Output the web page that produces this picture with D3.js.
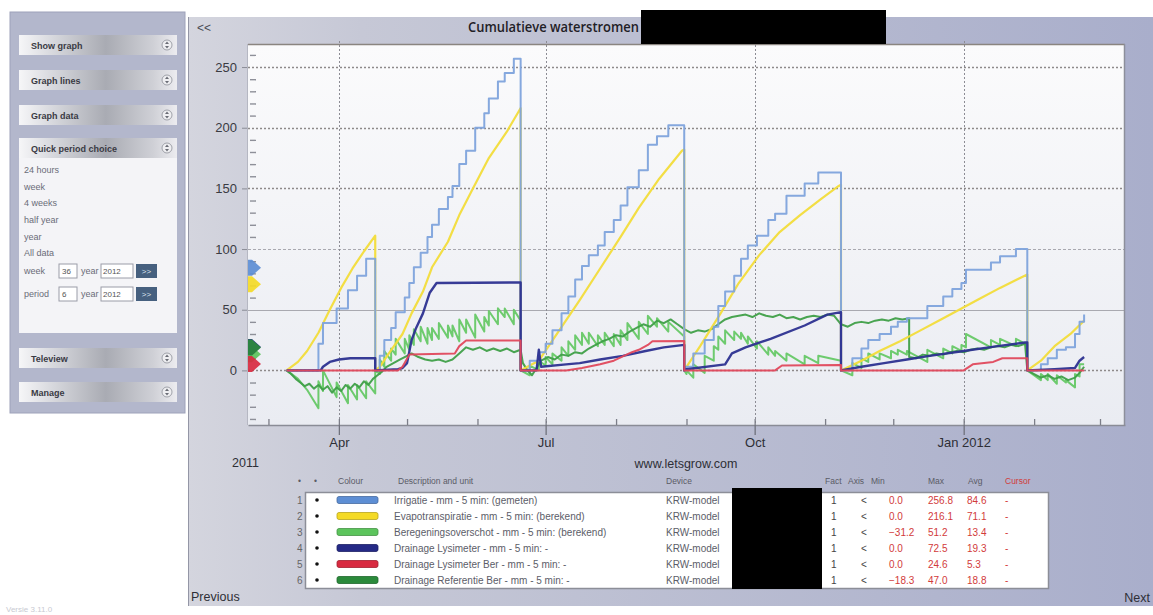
<!DOCTYPE html>
<html>
<head>
<meta charset="utf-8">
<script src="https://cdn.jsdelivr.net/npm/d3@7"></script>
<style>
  html, body { margin: 0; padding: 0; background: #ffffff; }
  svg { display: block; font-family: "Liberation Sans", Arial, sans-serif; }
</style>
</head>
<body>
<svg id="chart" width="1153" height="615"></svg>
<script>
// ---------- data ----------
const chartTitle = "Cumulatieve waterstromen";

const yTickValues = [0, 50, 100, 150, 200, 250];
const quarterTicks = ["2011-04-01", "2011-07-01", "2011-10-01", "2012-01-01"];
const quarterLabels = ["Apr", "Jul", "Oct", "Jan 2012"];
const monthTicks = ["2011-03-01", "2011-04-01", "2011-05-01", "2011-06-01", "2011-07-01", "2011-08-01",
  "2011-09-01", "2011-10-01", "2011-11-01", "2011-12-01", "2012-01-01", "2012-02-01", "2012-03-01"];

// Irrigatie (step series)
const irrigatie = [
  ["2011-03-09",0],["2011-03-23",22],["2011-03-25",39],["2011-03-31",51],["2011-04-05",66],["2011-04-09",78],["2011-04-13",92],["2011-04-17",0],
  ["2011-04-19",12],["2011-04-21",25],["2011-04-24",35],["2011-04-26",48],["2011-04-30",60],["2011-05-02",72],["2011-05-04",85],["2011-05-07",97],
  ["2011-05-10",110],["2011-05-12",120],["2011-05-15",133],["2011-05-19",143],["2011-05-21",152],["2011-05-24",170],["2011-05-27",181],["2011-05-31",200],
  ["2011-06-04",212],["2011-06-06",224],["2011-06-10",238],["2011-06-13",245],["2011-06-17",256.8],["2011-06-20",0],
  ["2011-06-24",8],["2011-06-28",15],["2011-07-01",22],["2011-07-04",33],["2011-07-08",47],["2011-07-11",61],["2011-07-14",75],["2011-07-17",86],
  ["2011-07-20",95],["2011-07-24",103],["2011-07-27",114],["2011-07-31",124],["2011-08-03",136],["2011-08-06",151],["2011-08-11",165],["2011-08-15",186],
  ["2011-08-19",193],["2011-08-24",202],["2011-08-31",0],
  ["2011-09-01",3],["2011-09-04",14],["2011-09-09",25],["2011-09-13",36],["2011-09-15",53],["2011-09-18",65],["2011-09-22",78],["2011-09-25",92],
  ["2011-09-28",103],["2011-10-02",111],["2011-10-07",124],["2011-10-10",129],["2011-10-15",144],["2011-10-23",154],["2011-10-29",163],["2011-11-08",0],
  ["2011-11-13",10],["2011-11-17",18],["2011-11-20",25],["2011-11-25",30],["2011-11-30",36],["2011-12-03",40],["2011-12-07",43],["2011-12-16",53],
  ["2011-12-23",61],["2011-12-27",67],["2011-12-31",72],["2012-01-02",83],["2012-01-13",89],["2012-01-17",94],["2012-01-24",100],["2012-01-29",0],
  ["2012-02-04",5],["2012-02-07",10],["2012-02-11",17],["2012-02-15",19],["2012-02-19",30],["2012-02-21",40],["2012-02-23",46]
];

// Evapotranspiratie
const evapotranspiratie = [
  ["2011-03-09",0],["2011-03-14",7],["2011-03-18",16],["2011-03-23",31],["2011-03-28",50],["2011-04-02",68],["2011-04-07",84],["2011-04-12",98],["2011-04-17",111],["2011-04-17",0],
  ["2011-04-19",3],["2011-04-23",14],["2011-04-29",30],["2011-05-03",47],["2011-05-08",65],["2011-05-12",85],["2011-05-19",106],["2011-05-24",128],
  ["2011-05-30",150],["2011-06-06",175],["2011-06-14",197],["2011-06-19",213],["2011-06-20",216.1],["2011-06-20",0],
  ["2011-06-24",4],["2011-06-28",8],["2011-07-07",33],["2011-07-16",58],["2011-07-25",84],["2011-08-03",110],["2011-08-11",134],["2011-08-20",158],
  ["2011-08-30",181],["2011-08-31",182],["2011-08-31",0],
  ["2011-09-07",20],["2011-09-16",47],["2011-09-24",72],["2011-10-03",95],["2011-10-12",114],["2011-10-21",128],["2011-10-30",141],["2011-11-07",152],
  ["2011-11-08",153],["2011-11-08",0],
  ["2011-11-17",8],["2011-11-25",16],["2011-12-04",24],["2011-12-13",33],["2011-12-22",42],["2011-12-30",50],["2012-01-08",59],["2012-01-17",68],
  ["2012-01-29",79],["2012-01-29",0],
  ["2012-02-04",8],["2012-02-10",20],["2012-02-17",30],["2012-02-23",41]
];

// Beregeningsoverschot
const beregeningsoverschot = [
  ["2011-03-09",0],["2011-03-14",-7],["2011-03-18",-16],["2011-03-23",-31.2],["2011-03-23",-9],["2011-03-25",-17],["2011-03-25",0],
  ["2011-03-31",-22],["2011-03-31",-10],["2011-04-05",-27],["2011-04-05",-12],["2011-04-09",-24],["2011-04-09",-12],["2011-04-13",-23],["2011-04-13",-9],
  ["2011-04-17",-19],["2011-04-17",0],
  ["2011-04-19",-3],["2011-04-19",9],["2011-04-21",3],["2011-04-21",16],["2011-04-24",8],["2011-04-24",18],["2011-04-26",13],["2011-04-26",26],
  ["2011-04-30",14],["2011-04-30",26],["2011-05-02",17],["2011-05-02",29],["2011-05-04",21],["2011-05-04",34],["2011-05-07",24],["2011-05-07",36],
  ["2011-05-10",22],["2011-05-10",35],["2011-05-12",25],["2011-05-12",35],["2011-05-15",26],["2011-05-15",39],["2011-05-19",27],["2011-05-19",37],
  ["2011-05-21",28],["2011-05-21",37],["2011-05-24",24],["2011-05-24",42],["2011-05-27",31],["2011-05-27",42],["2011-05-31",27],["2011-05-31",46],
  ["2011-06-04",32],["2011-06-04",44],["2011-06-06",37],["2011-06-06",49],["2011-06-10",38],["2011-06-10",51.2],["2011-06-13",44],["2011-06-13",51],
  ["2011-06-17",38],["2011-06-17",50],["2011-06-20",41],["2011-06-20",0],
  ["2011-06-24",-4],["2011-06-24",4],["2011-06-28",0],["2011-06-28",8],["2011-07-01",4],["2011-07-01",11],["2011-07-04",5],["2011-07-04",14],
  ["2011-07-08",8],["2011-07-08",19],["2011-07-11",12],["2011-07-11",24],["2011-07-14",17],["2011-07-14",29],["2011-07-17",21],["2011-07-17",31],
  ["2011-07-20",22],["2011-07-20",31],["2011-07-24",20],["2011-07-24",29],["2011-07-27",21],["2011-07-27",31],["2011-07-31",20],["2011-07-31",30],
  ["2011-08-03",21],["2011-08-03",33],["2011-08-06",25],["2011-08-06",39],["2011-08-11",26],["2011-08-11",40],["2011-08-15",30],["2011-08-15",45],
  ["2011-08-19",36],["2011-08-19",43],["2011-08-24",32],["2011-08-24",40],["2011-08-31",28],["2011-08-31",0],
  ["2011-09-01",-3],["2011-09-01",0],["2011-09-04",-6],["2011-09-04",5],["2011-09-09",-2],["2011-09-09",12],["2011-09-13",8],["2011-09-13",20],
  ["2011-09-15",17],["2011-09-15",28],["2011-09-18",22],["2011-09-18",33],["2011-09-22",25],["2011-09-22",32],["2011-09-25",26],["2011-09-25",31],
  ["2011-09-28",22],["2011-09-28",28],["2011-10-02",18],["2011-10-02",24],["2011-10-07",13],["2011-10-07",19],["2011-10-10",12],["2011-10-10",16],
  ["2011-10-15",8],["2011-10-15",14],["2011-10-23",5],["2011-10-23",12],["2011-10-29",6],["2011-10-29",12],["2011-11-08",8],["2011-11-08",0],
  ["2011-11-13",-4],["2011-11-13",6],["2011-11-17",2],["2011-11-17",10],["2011-11-20",7],["2011-11-20",14],["2011-11-25",9],["2011-11-25",14],
  ["2011-11-30",10],["2011-11-30",16],["2011-12-03",13],["2011-12-03",17],["2011-12-07",13],["2011-12-07",16],["2011-12-16",7],["2011-12-16",17],
  ["2011-12-23",10],["2011-12-23",18],["2011-12-27",14],["2011-12-27",20],["2011-12-31",16],["2011-12-31",21],["2012-01-02",19],["2012-01-02",30],
  ["2012-01-13",19],["2012-01-13",25],["2012-01-17",21],["2012-01-17",26],["2012-01-24",20],["2012-01-24",26],["2012-01-29",21],["2012-01-29",0],
  ["2012-02-04",-8],["2012-02-04",-3],["2012-02-07",-8],["2012-02-07",-3],["2012-02-11",-11],["2012-02-11",-4],["2012-02-15",-10],["2012-02-15",-8],
  ["2012-02-19",-14],["2012-02-19",-3],["2012-02-21",-5],["2012-02-21",5],["2012-02-23",5]
];

// Drainage Lysimeter
const drainageLysimeter = [
  ["2011-03-09",0],["2011-03-24",0],["2011-03-25",3],["2011-03-28",7],["2011-04-01",9],["2011-04-06",10],["2011-04-17",10],["2011-04-17",0],
  ["2011-04-27",1],["2011-04-29",2],["2011-05-01",6],["2011-05-03",25],["2011-05-05",35],["2011-05-08",47],["2011-05-11",64],["2011-05-14",72],
  ["2011-05-31",72.2],["2011-06-20",72.5],["2011-06-20",0],
  ["2011-06-27",0],["2011-06-28",17],["2011-06-29",3],["2011-07-10",5],["2011-07-16",6],["2011-07-25",9],["2011-08-04",12],["2011-08-14",16],
  ["2011-08-22",19],["2011-08-31",21],["2011-08-31",0],
  ["2011-09-01",1],["2011-09-18",5],["2011-09-21",14],["2011-09-27",19],["2011-10-08",26],["2011-10-23",37],["2011-11-02",46],["2011-11-08",48],["2011-11-08",0],
  ["2011-11-17",3],["2011-11-27",6],["2011-12-07",9],["2011-12-17",12],["2012-01-01",16],["2012-01-16",20],["2012-01-28",23],["2012-01-29",23],["2012-01-29",0],
  ["2012-02-10",1],["2012-02-19",2],["2012-02-21",8],["2012-02-23",11]
];

// Drainage Lysimeter Ber
const drainageLysimeterBer = [
  ["2011-03-09",0],["2011-04-17",0],["2011-04-27",0],["2011-04-29",3],["2011-05-02",13],["2011-05-22",14],["2011-05-24",20],["2011-05-27",24.6],
  ["2011-06-20",24.6],["2011-06-20",0],
  ["2011-07-10",0],["2011-07-17",2],["2011-07-25",5],["2011-07-31",8],["2011-08-08",15],["2011-08-11",17],["2011-08-15",21],["2011-08-17",24],
  ["2011-08-31",24.3],["2011-08-31",0],
  ["2011-10-10",0],["2011-10-13",4],["2011-11-08",4.5],["2011-11-08",0],
  ["2012-01-01",0],["2012-01-05",5],["2012-01-14",7],["2012-01-18",10],["2012-01-29",10],["2012-01-29",0],["2012-02-23",0]
];

// Drainage Referentie Ber
const drainageReferentieBer = [
  ["2011-03-09",0],["2011-03-11",-3],["2011-03-13",-7],["2011-03-15",-10],["2011-03-17",-13],["2011-03-19",-11],["2011-03-21",-15],["2011-03-23",-12],
  ["2011-03-25",-16],["2011-03-27",-13],["2011-03-29",-18.3],["2011-03-31",-14],["2011-04-02",-17],["2011-04-04",-12],["2011-04-06",-15],["2011-04-08",-11],
  ["2011-04-10",-14],["2011-04-12",-9],["2011-04-14",-12],["2011-04-16",-7],["2011-04-18",-4],
  ["2011-04-20",-1],["2011-04-22",3],["2011-04-25",6],["2011-04-28",9],["2011-05-01",12],["2011-05-03",14],["2011-05-06",11],["2011-05-09",9],
  ["2011-05-12",8],["2011-05-15",9],["2011-05-18",7],["2011-05-21",9],["2011-05-24",14],["2011-05-27",19],["2011-05-30",17],["2011-06-02",19],
  ["2011-06-05",16],["2011-06-08",18],["2011-06-11",16],["2011-06-14",18],["2011-06-17",15],["2011-06-20",17],
  ["2011-06-21",6],["2011-06-23",0],["2011-06-25",-4],["2011-06-27",2],["2011-06-29",8],["2011-07-02",11],["2011-07-05",9],["2011-07-08",13],
  ["2011-07-11",12],["2011-07-14",15],["2011-07-17",14],["2011-07-20",18],["2011-07-23",21],["2011-07-26",24],["2011-07-29",26],["2011-08-01",29],
  ["2011-08-04",28],["2011-08-07",32],["2011-08-10",35],["2011-08-13",38],["2011-08-16",36],["2011-08-19",41],["2011-08-22",39],["2011-08-25",42],
  ["2011-08-28",38],["2011-08-31",34],
  ["2011-09-03",31],["2011-09-06",33],["2011-09-09",32],["2011-09-12",34],["2011-09-15",38],["2011-09-18",42],["2011-09-21",44],["2011-09-24",45],
  ["2011-09-27",46],["2011-09-30",44],["2011-10-03",47],["2011-10-06",45],["2011-10-09",44],["2011-10-12",46],["2011-10-15",43],["2011-10-18",44],
  ["2011-10-21",42],["2011-10-24",44],["2011-10-27",45],["2011-10-30",44],["2011-11-02",46],["2011-11-05",45],["2011-11-08",38],
  ["2011-11-11",36],["2011-11-14",39],["2011-11-17",40],["2011-11-20",39],["2011-11-23",41],["2011-11-26",42],["2011-11-29",41],["2011-12-02",43],
  ["2011-12-05",42],["2011-12-08",43],["2011-12-08",11],["2011-12-11",10],["2011-12-14",13],["2011-12-17",12],["2011-12-20",14],["2011-12-23",13],
  ["2011-12-26",15],["2011-12-29",16],["2012-01-01",15],["2012-01-04",17],["2012-01-07",18],["2012-01-10",17],["2012-01-13",19],["2012-01-16",20],
  ["2012-01-19",19],["2012-01-22",21],["2012-01-25",20],["2012-01-28",22],["2012-01-29",0],
  ["2012-02-01",-3],["2012-02-04",-6],["2012-02-07",-4],["2012-02-10",-7],["2012-02-13",-5],["2012-02-16",-8],["2012-02-19",-6],["2012-02-21",-2],["2012-02-23",3]
];

// legend table
const legendDescriptions = [
  "Irrigatie - mm - 5 min: (gemeten)",
  "Evapotranspiratie - mm - 5 min: (berekend)",
  "Beregeningsoverschot - mm - 5 min: (berekend)",
  "Drainage Lysimeter - mm - 5 min: -",
  "Drainage Lysimeter Ber - mm - 5 min: -",
  "Drainage Referentie Ber - mm - 5 min: -"
];
const legendDevice = ["KRW-model", "KRW-model", "KRW-model", "KRW-model", "KRW-model", "KRW-model"];
const legendFact = ["1", "1", "1", "1", "1", "1"];
const legendAxis = ["<", "<", "<", "<", "<", "<"];
const legendMin = [0.0, 0.0, -31.2, 0.0, 0.0, -18.3];
const legendMax = [256.8, 216.1, 51.2, 72.5, 24.6, 47.0];
const legendAvg = [84.6, 71.1, 13.4, 19.3, 5.3, 18.8];
const legendCursor = ["-", "-", "-", "-", "-", "-"];
const legendHeaders = ["\u2022", "\u2022", "Colour", "Description and unit", "Device", "Fact", "Axis", "Min", "Max", "Avg", "Cursor"];

const menuItems = ["Show graph", "Graph lines", "Graph data", "Quick period choice"];
const menuItemsLower = ["Teleview", "Manage"];
const periodChoices = ["24 hours", "week", "4 weeks", "half year", "year", "All data"];

// ---------- styles ----------
const seriesList = [
  { data: irrigatie, color: "#7ea3dc", swatch: "#5d8ed4", width: 2, curve: d3.curveStepAfter },
  { data: evapotranspiratie, color: "#f2dc3a", swatch: "#f4da26", width: 2.2, curve: d3.curveLinear },
  { data: beregeningsoverschot, color: "#66c866", swatch: "#5cc45c", width: 2, curve: d3.curveLinear },
  { data: drainageLysimeter, color: "#2c3090", swatch: "#252a86", width: 2.4, curve: d3.curveLinear },
  { data: drainageLysimeterBer, color: "#e0485c", swatch: "#d82a40", width: 2, curve: d3.curveLinear },
  { data: drainageReferentieBer, color: "#3f9f48", swatch: "#2b8a3b", width: 2, curve: d3.curveLinear }
];
const drawOrder = [2, 5, 1, 0, 3, 4];
const headerX = [298, 314, 338, 398, 666, 825, 848, 871, 928, 968, 1005];

const parseDay = d3.timeParse("%Y-%m-%d");
const svg = d3.select("#chart");
const defs = svg.append("defs");

function hGrad(id, stops) {
  const g = defs.append("linearGradient").attr("id", id).attr("x1", "0%").attr("x2", "100%").attr("y1", "0%").attr("y2", "0%");
  stops.forEach(s => g.append("stop").attr("offset", s[0]).attr("stop-color", s[1]));
}
function vGrad(id, stops) {
  const g = defs.append("linearGradient").attr("id", id).attr("x1", "0%").attr("x2", "0%").attr("y1", "0%").attr("y2", "100%");
  stops.forEach(s => g.append("stop").attr("offset", s[0]).attr("stop-color", s[1]));
}
hGrad("panelGrad", [["0%", "#d4d5de"], ["18%", "#c6c8d6"], ["100%", "#a9aecb"]]);
vGrad("plotGrad", [["0%", "#fbfbfc"], ["100%", "#eaecf2"]]);
hGrad("btnGrad", [["0%", "#f6f6f8"], ["20%", "#d9dadf"], ["55%", "#a9abb3"], ["85%", "#cfd0d6"], ["100%", "#ececf0"]]);

// ---------- left menu panel ----------
const menu = svg.append("g");
menu.append("rect").attr("x", 10).attr("y", 12).attr("width", 175).attr("height", 401)
  .attr("fill", "#b3b7cc").attr("stroke", "#9ea2ba");

function menuButton(label, yTop) {
  const g = menu.append("g");
  g.append("rect").attr("x", 19).attr("y", yTop).attr("width", 158).attr("height", 20).attr("fill", "url(#btnGrad)");
  g.append("text").attr("x", 31).attr("y", yTop + 14).attr("font-size", 9).attr("font-weight", "bold")
    .attr("fill", "#3a3a44").text(label);
  g.append("circle").attr("cx", 167).attr("cy", yTop + 10).attr("r", 5).attr("fill", "#eeeef1").attr("stroke", "#8d8f98").attr("stroke-width", 0.8);
  g.append("path").attr("d", `M165,${yTop + 9} L167,${yTop + 6.5} L169,${yTop + 9} Z M165,${yTop + 11} L167,${yTop + 13.5} L169,${yTop + 11} Z`)
    .attr("fill", "#6b6d76");
}
const menuTops = [35, 70, 105, 138];
menuItems.forEach((m, i) => menuButton(m, menuTops[i]));

// period choice content
menu.append("rect").attr("x", 19).attr("y", 158).attr("width", 158).attr("height", 175).attr("fill", "#f4f4f7");
const choiceY = [173, 190, 206, 223, 240, 256];
periodChoices.forEach((c, i) => {
  menu.append("text").attr("x", 24).attr("y", choiceY[i]).attr("font-size", 9).attr("fill", "#6a6c78").text(c);
});
function periodRow(label, num, yr, yTop) {
  menu.append("text").attr("x", 24).attr("y", yTop + 10).attr("font-size", 9).attr("fill", "#6a6c78").text(label);
  menu.append("rect").attr("x", 59).attr("y", yTop).attr("width", 18).attr("height", 14).attr("fill", "#fff").attr("stroke", "#9a9ca8");
  menu.append("text").attr("x", 62).attr("y", yTop + 10).attr("font-size", 8).attr("fill", "#555").text(num);
  menu.append("text").attr("x", 81).attr("y", yTop + 10).attr("font-size", 9).attr("fill", "#6a6c78").text("year");
  menu.append("rect").attr("x", 101).attr("y", yTop).attr("width", 32).attr("height", 14).attr("fill", "#fff").attr("stroke", "#9a9ca8");
  menu.append("text").attr("x", 103).attr("y", yTop + 10).attr("font-size", 8).attr("fill", "#555").text(yr);
  menu.append("rect").attr("x", 136).attr("y", yTop).attr("width", 21).attr("height", 14).attr("fill", "#46607f");
  menu.append("text").attr("x", 146.5).attr("y", yTop + 10).attr("font-size", 8).attr("text-anchor", "middle").attr("fill", "#dfe6f0").text(">>");
}
periodRow("week", "36", "2012", 264);
periodRow("period", "6", "2012", 287);

const lowerTops = [348, 382];
menuItemsLower.forEach((m, i) => menuButton(m, lowerTops[i]));

// ---------- main chart panel ----------
svg.append("rect").attr("x", 188).attr("y", 17).attr("width", 965).attr("height", 589)
  .attr("fill", "url(#panelGrad)");
svg.append("line").attr("x1", 188.5).attr("x2", 188.5).attr("y1", 17).attr("y2", 606).attr("stroke", "#9496a6");

const margin = { left: 248, right: 1125, top: 44, bottom: 425 };
const x = d3.scaleTime()
  .domain([new Date(2011, 1, 20), new Date(2012, 2, 12)])
  .range([margin.left, margin.right]);
const y = d3.scaleLinear().domain([-45, 269]).range([margin.bottom, margin.top]);

// plot background
svg.append("rect").attr("x", margin.left).attr("y", margin.top)
  .attr("width", margin.right - margin.left).attr("height", margin.bottom - margin.top)
  .attr("fill", "url(#plotGrad)");

// horizontal grid
const softGrid = new Set([50, 100]);
svg.append("g").selectAll("line").data(yTickValues).join("line")
  .attr("x1", margin.left).attr("x2", margin.right)
  .attr("y1", d => Math.round(y(d)) + 0.5).attr("y2", d => Math.round(y(d)) + 0.5)
  .attr("stroke", d => softGrid.has(d) ? "#a9a9b0" : "#8e8a8a")
  .attr("stroke-width", d => softGrid.has(d) ? 1 : 1.6)
  .attr("stroke-dasharray", d => d === 50 ? null : (d === 100 ? "3,2" : "2,2"));

// vertical grid at quarters
svg.append("g").selectAll("line").data(quarterTicks).join("line")
  .attr("x1", d => Math.round(x(parseDay(d))) + 0.5).attr("x2", d => Math.round(x(parseDay(d))) + 0.5)
  .attr("y1", margin.top - 3).attr("y2", margin.bottom)
  .attr("stroke", "#8c8c94").attr("stroke-width", 1).attr("stroke-dasharray", "2,2");

// frame
svg.append("line").attr("x1", margin.left).attr("x2", margin.right).attr("y1", margin.top + 0.5).attr("y2", margin.top + 0.5)
  .attr("stroke", "#8a8580").attr("stroke-width", 1.5);
svg.append("line").attr("x1", margin.right - 0.5).attr("x2", margin.right - 0.5).attr("y1", margin.top).attr("y2", margin.bottom)
  .attr("stroke", "#8d8f9b").attr("stroke-width", 1.5);
svg.append("line").attr("x1", margin.left - 0.5).attr("x2", margin.left - 0.5).attr("y1", margin.top).attr("y2", margin.bottom)
  .attr("stroke", "#b5b7c2").attr("stroke-width", 1);

// x axis: month minor ticks (inward) and quarter major ticks with labels
const xMinor = d3.axisBottom(x).tickValues(monthTicks.map(parseDay)).tickSizeInner(-6).tickSizeOuter(0).tickFormat("");
const gxMinor = svg.append("g").attr("transform", `translate(0,${margin.bottom})`).call(xMinor);
gxMinor.select(".domain").attr("stroke", "#8a8c96").attr("stroke-width", 1.5);
gxMinor.selectAll(".tick line").attr("stroke", "#7c7e88").attr("stroke-width", 1.3);

const xMajor = d3.axisBottom(x).tickValues(quarterTicks.map(parseDay)).tickSize(10).tickPadding(3)
  .tickFormat((d, i) => quarterLabels[i]);
const gxMajor = svg.append("g").attr("transform", `translate(0,${margin.bottom})`).call(xMajor);
gxMajor.select(".domain").remove();
gxMajor.selectAll(".tick line").attr("stroke", "#6f717c").attr("stroke-width", 1.3);
gxMajor.selectAll(".tick text").attr("font-size", 13).attr("fill", "#2e2f36")
  .attr("font-family", "'Liberation Sans', Arial, sans-serif");

// y axis: labels with short outer ticks
const yAxis = d3.axisLeft(y).tickValues(yTickValues).tickSize(5).tickPadding(5);
const gy = svg.append("g").attr("transform", `translate(${margin.left - 1},0)`).call(yAxis);
gy.select(".domain").remove();
gy.selectAll(".tick line").attr("stroke", "#8a8c96");
gy.selectAll(".tick text").attr("font-size", 13).attr("fill", "#3a3b42")
  .attr("font-family", "'Liberation Sans', Arial, sans-serif");

// y minor ticks (inside, every 10)
const minorValues = d3.range(-40, 270, 10).filter(v => v % 50 !== 0);
const yMinor = d3.axisRight(y).tickValues(minorValues).tickSize(6).tickFormat("");
const gyMinor = svg.append("g").attr("transform", `translate(${margin.left + 2},0)`).call(yMinor);
gyMinor.select(".domain").remove();
gyMinor.selectAll(".tick line").attr("stroke", "#8e9099").attr("stroke-width", 1.4);

// series lines
defs.append("clipPath").attr("id", "plotClip").append("rect")
  .attr("x", margin.left).attr("y", margin.top).attr("width", margin.right - margin.left).attr("height", margin.bottom - margin.top);
const linesG = svg.append("g").attr("clip-path", "url(#plotClip)");
drawOrder.forEach(i => {
  const s = seriesList[i];
  const line = d3.line().x(d => x(parseDay(d[0]))).y(d => y(d[1])).curve(s.curve);
  linesG.append("path").attr("d", line(s.data)).attr("fill", "none")
    .attr("stroke", s.color).attr("stroke-width", s.width).attr("stroke-linejoin", "round").attr("opacity", 0.95);
});

// average markers on the value axis
seriesList.forEach((s, i) => {
  const yy = y(legendAvg[i]);
  svg.append("path")
    .attr("d", `M${margin.left},${yy - 8} L${margin.left + 4},${yy - 8} L${margin.left + 13},${yy} L${margin.left + 4},${yy + 8} L${margin.left},${yy + 8} Z`)
    .attr("fill", s.swatch).attr("opacity", 0.92);
});

// title bar
svg.append("text").attr("x", 197).attr("y", 32).attr("font-size", 12).attr("fill", "#4a4b55").text("<<");
svg.append("text").attr("x", 468).attr("y", 32).attr("font-size", 13.5).attr("fill", "#1f2026")
  .attr("font-family", "'Open Sans', 'Liberation Sans', sans-serif").attr("font-weight", 600)
  .attr("textLength", 171).attr("lengthAdjust", "spacingAndGlyphs").text(chartTitle);
svg.append("rect").attr("x", 641).attr("y", 10).attr("width", 245).attr("height", 34).attr("fill", "#000");

// footer labels
svg.append("text").attr("x", 232).attr("y", 467).attr("font-size", 12.5).attr("fill", "#2e2f36").text("2011");
svg.append("text").attr("x", 686).attr("y", 468).attr("font-size", 12.5).attr("text-anchor", "middle").attr("fill", "#2e2f36").text("www.letsgrow.com");
svg.append("text").attr("x", 191).attr("y", 601).attr("font-size", 12.5).attr("fill", "#2e2f36").text("Previous");
svg.append("text").attr("x", 1150).attr("y", 602).attr("font-size", 12.5).attr("text-anchor", "end").attr("fill", "#2e2f36").text("Next");
svg.append("text").attr("x", 6).attr("y", 612).attr("font-size", 8).attr("fill", "#c8cad2").text("Versie 3.11.0");

// legend table
const legend = svg.append("g").attr("font-size", 10).attr("font-family", "'Liberation Sans', Arial, sans-serif");
legendHeaders.forEach((h, i) => {
  legend.append("text").attr("x", headerX[i]).attr("y", 484).attr("font-size", 8.5)
    .attr("fill", h === "Cursor" ? "#d23a3a" : "#5a5b66").text(h);
});
legend.append("rect").attr("x", 305.5).attr("y", 492.5).attr("width", 743).attr("height", 96)
  .attr("fill", "#ffffff").attr("stroke", "#8c8e98").attr("stroke-width", 1.5);

const rowY = d3.range(6).map(i => 500 + i * 16);
const fmt = d3.format(".1f");
seriesList.forEach((s, i) => {
  const ry = rowY[i];
  legend.append("text").attr("x", 297).attr("y", ry + 4).attr("fill", "#666").text(i + 1);
  legend.append("circle").attr("cx", 317).attr("cy", ry).attr("r", 1.8).attr("fill", "#111");
  legend.append("rect").attr("x", 337).attr("y", ry - 3.5).attr("width", 41).attr("height", 7).attr("rx", 2)
    .attr("fill", s.swatch).attr("stroke", d3.color(s.swatch).darker(0.8)).attr("stroke-width", 0.8);
  legend.append("text").attr("x", 394).attr("y", ry + 4).attr("fill", "#5c5d68").text(legendDescriptions[i]);
  legend.append("text").attr("x", 666).attr("y", ry + 4).attr("fill", "#5c5d68").text(legendDevice[i]);
  legend.append("text").attr("x", 831).attr("y", ry + 4).attr("fill", "#444").text(legendFact[i]);
  legend.append("text").attr("x", 861).attr("y", ry + 4).attr("fill", "#444").text(legendAxis[i]);
  legend.append("text").attr("x", 889).attr("y", ry + 4).attr("fill", "#d23a3a").text(fmt(legendMin[i]));
  legend.append("text").attr("x", 928).attr("y", ry + 4).attr("fill", "#d23a3a").text(fmt(legendMax[i]));
  legend.append("text").attr("x", 967).attr("y", ry + 4).attr("fill", "#d23a3a").text(fmt(legendAvg[i]));
  legend.append("text").attr("x", 1005).attr("y", ry + 4).attr("fill", "#d23a3a").text(legendCursor[i]);
});
legend.append("rect").attr("x", 732).attr("y", 488).attr("width", 90).attr("height", 101).attr("fill", "#000");
</script>
</body>
</html>
